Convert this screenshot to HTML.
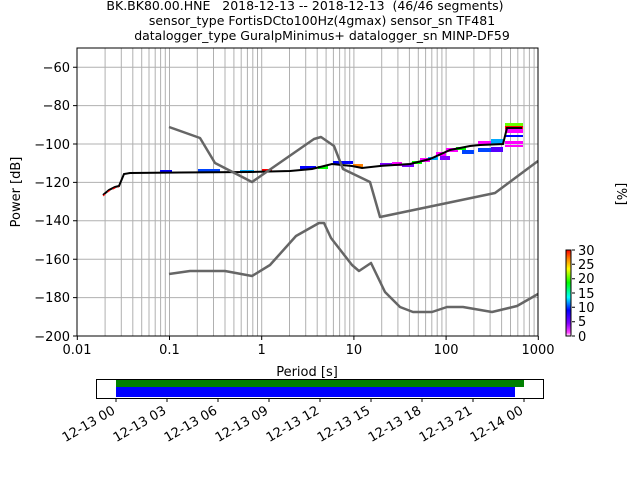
<!DOCTYPE html>
<html><head><meta charset="utf-8"><style>
html,body{margin:0;padding:0;background:#fff;}
svg{display:block;font-family:"DejaVu Sans","Liberation Sans",sans-serif;}
text{white-space:pre;}
</style></head><body>
<svg width="640" height="480" viewBox="0 0 640 480" xmlns="http://www.w3.org/2000/svg" xml:space="preserve">
<defs>
<linearGradient id="cb" x1="0" y1="1" x2="0" y2="0">
<stop offset="0" stop-color="#ffffff"/>
<stop offset="0.04" stop-color="#ff40ff"/>
<stop offset="0.15" stop-color="#8000ff"/>
<stop offset="0.3" stop-color="#0000ff"/>
<stop offset="0.45" stop-color="#00ffff"/>
<stop offset="0.62" stop-color="#00ff00"/>
<stop offset="0.78" stop-color="#ffff00"/>
<stop offset="0.9" stop-color="#ff8000"/>
<stop offset="1" stop-color="#ff0000"/>
</linearGradient>
</defs>
<g font-size="12.5" text-anchor="middle" fill="#000">
<text x="305" y="10">BK.BK80.00.HNE   2018-12-13 -- 2018-12-13  (46/46 segments)</text>
<text x="322" y="25">sensor_type FortisDCto100Hz(4gmax) sensor_sn TF481</text>
<text x="322" y="40">datalogger_type GuralpMinimus+ datalogger_sn MINP-DF59</text>
</g>
<g stroke="#b0b0b0" stroke-width="1">
<path d="M169.5 48V336M261.7 48V336M353.9 48V336M446.1 48V336"/>
<path d="M105.1 48V336M121.3 48V336M132.8 48V336M141.7 48V336M149 48V336M155.2 48V336M160.6 48V336M165.3 48V336
M197.3 48V336M213.5 48V336M225 48V336M233.9 48V336M241.2 48V336M247.4 48V336M252.8 48V336M257.5 48V336
M289.5 48V336M305.7 48V336M317.2 48V336M326.1 48V336M333.4 48V336M339.6 48V336M345 48V336M349.7 48V336
M381.7 48V336M397.9 48V336M409.4 48V336M418.3 48V336M425.6 48V336M431.8 48V336M437.2 48V336M441.9 48V336
M473.9 48V336M490.1 48V336M501.6 48V336M510.5 48V336M517.8 48V336M524 48V336M529.4 48V336M534.1 48V336"/>
<path d="M77 67.2H538M77 105.6H538M77 144H538M77 182.4H538M77 220.8H538M77 259.2H538M77 297.6H538"/>
</g>
<g>
<rect x="160" y="170" width="12" height="3" fill="#0000ff"/>
<rect x="198" y="169" width="22" height="3" fill="#0044ff"/>
<rect x="240" y="170" width="14" height="3" fill="#00aaff"/>
<rect x="262" y="169" width="10" height="3" fill="#ff0000"/>
<rect x="300" y="166" width="16" height="3" fill="#0000ff"/>
<rect x="318" y="166" width="10" height="3" fill="#00ff00"/>
<rect x="333" y="161" width="20" height="3" fill="#0000ff"/>
<rect x="353" y="164" width="10" height="3" fill="#ff8000"/>
<rect x="380" y="163" width="12" height="3" fill="#8000ff"/>
<rect x="392" y="162" width="10" height="4" fill="#ff00ff"/>
<rect x="402" y="164" width="12" height="3" fill="#8000ff"/>
<rect x="412" y="161" width="10" height="3" fill="#00ff00"/>
<rect x="420" y="158" width="10" height="4" fill="#ff00ff"/>
<rect x="428" y="157" width="10" height="3" fill="#00aaff"/>
<rect x="436" y="152" width="10" height="4" fill="#ff00ff"/>
<rect x="440" y="156" width="10" height="4" fill="#8000ff"/>
<rect x="446" y="148" width="12" height="4" fill="#ff00ff"/>
<rect x="456" y="147" width="10" height="3" fill="#00ff00"/>
<rect x="462" y="150" width="12" height="4" fill="#0044ff"/>
<rect x="478" y="141" width="14" height="3" fill="#ff00ff"/>
<rect x="478" y="148" width="14" height="4" fill="#0044ff"/>
<rect x="491" y="139" width="12" height="5" fill="#00aaff"/>
<rect x="491" y="147" width="12" height="5" fill="#5500ff"/>
<rect x="505" y="123" width="18" height="3" fill="#66ff00"/>
<rect x="505" y="126" width="18" height="3" fill="#ff0000"/>
<rect x="505" y="129" width="18" height="4" fill="#ff00ff"/>
<rect x="505" y="135" width="18" height="2" fill="#0000ff"/>
<rect x="505" y="141" width="18" height="3" fill="#ff00ff"/>
<rect x="505" y="145" width="18" height="2" fill="#ff00ff"/>
</g>
<polyline fill="none" stroke="#000" stroke-width="2" points="103,195 109,190 115,187 119,186 124,174 130,173 180,172.5 250,172 290,171 312,169 332,164 342,165 352,166 362,168 380,166 410,164 430,159 450,150 470,146 480,145 503,144 507,128 522,128"/>
<polyline fill="none" stroke="#ff0000" stroke-width="1" stroke-dasharray="3,3" points="103,196 109,191 115,188 119,187"/>
<g fill="none" stroke="#666" stroke-width="2.5" stroke-linejoin="round">
<polyline points="169,127 200,138 215,163 252,182 314,139 321,137 334,146 343,169 370,182 380,217 495,193 538,161"/>
<polyline points="169,274 190,271 225,271 252,276 270,265 296,236 319,223 324,223 331,238 352,265 359,271 371,263 385,292 400,307 413,312 432,312 447,307 463,307 492,312 517,306 538,294"/>
</g>
<rect x="77" y="48" width="461" height="288" fill="none" stroke="#000" stroke-width="1"/>
<g stroke="#000"><path d="M73 67.2H77M73 105.6H77M73 144H77M73 182.4H77M73 220.8H77M73 259.2H77M73 297.6H77M73 336H77M77.3 336v4M169.5 336v4M261.7 336v4M353.9 336v4M446.1 336v4M538.3 336v4"/></g>
<g font-size="13" text-anchor="end">
<text x="70" y="72">−60</text><text x="70" y="110">−80</text><text x="70" y="149">−100</text><text x="70" y="187">−120</text><text x="70" y="225">−140</text><text x="70" y="264">−160</text><text x="70" y="302">−180</text><text x="70" y="341">−200</text>
</g>
<g font-size="13" text-anchor="middle">
<text x="77" y="354">0.01</text><text x="169.5" y="354">0.1</text><text x="261.7" y="354">1</text><text x="353.9" y="354">10</text><text x="446.1" y="354">100</text><text x="538" y="354">1000</text>
<text x="307" y="376">Period [s]</text>
</g>
<text font-size="13" text-anchor="middle" transform="translate(20,192) rotate(-90)">Power [dB]</text>
<rect x="566" y="250" width="5" height="86" fill="url(#cb)" stroke="#000" stroke-width="1"/>
<g stroke="#000"><path d="M572 250h3M572 264.3h3M572 278.7h3M572 293h3M572 307.3h3M572 321.7h3M572 336h3"/></g>
<g font-size="13"><text x="578" y="255">30</text><text x="578" y="269">25</text><text x="578" y="283">20</text><text x="578" y="298">15</text><text x="578" y="312">10</text><text x="578" y="326">5</text><text x="578" y="341">0</text></g>
<text font-size="13" text-anchor="middle" transform="translate(617,194) rotate(90)">[%]</text>
<rect x="116" y="379" width="408" height="8" fill="#008000"/>
<rect x="116" y="387" width="399" height="10" fill="#0000ff"/>
<rect x="96.5" y="379.5" width="447" height="19" fill="none" stroke="#000" stroke-width="1"/>
<g stroke="#000"><path d="M116 398v4M167 398v4M218 398v4M269 398v4M320 398v4M371 398v4M422 398v4M473 398v4M524 398v4"/></g>
<g font-size="13" text-anchor="end">
<text transform="translate(116,413) rotate(-30)">12-13 00</text>
<text transform="translate(167,413) rotate(-30)">12-13 03</text>
<text transform="translate(218,413) rotate(-30)">12-13 06</text>
<text transform="translate(269,413) rotate(-30)">12-13 09</text>
<text transform="translate(320,413) rotate(-30)">12-13 12</text>
<text transform="translate(371,413) rotate(-30)">12-13 15</text>
<text transform="translate(422,413) rotate(-30)">12-13 18</text>
<text transform="translate(473,413) rotate(-30)">12-13 21</text>
<text transform="translate(524,413) rotate(-30)">12-14 00</text>
</g>
</svg>
</body></html>
